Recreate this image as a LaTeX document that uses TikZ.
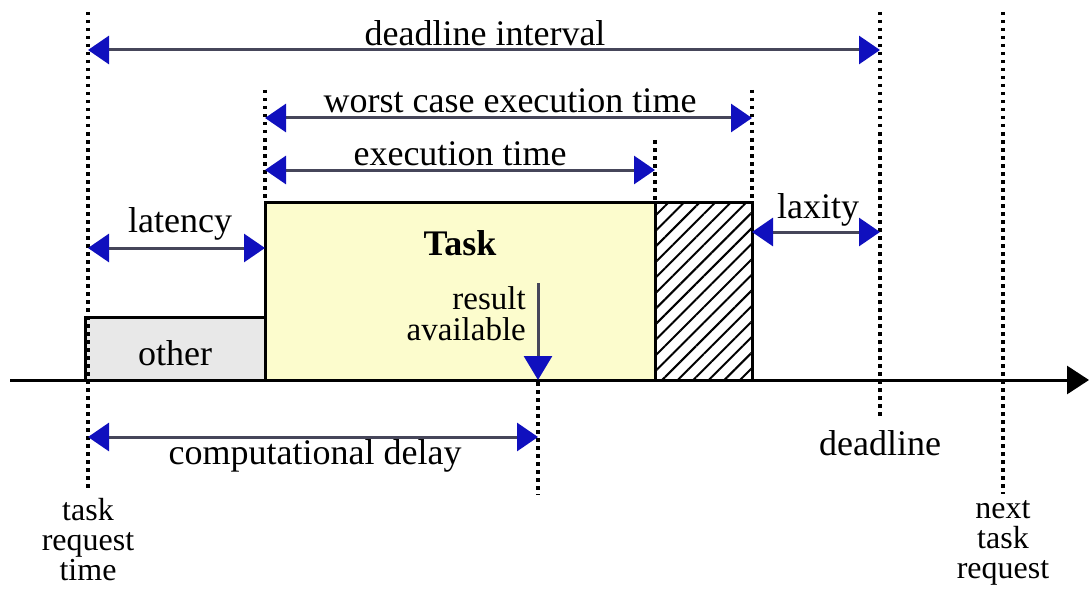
\documentclass[tikz,border=0pt]{standalone}
\usepackage{fontspec}
\setmainfont{Liberation Serif}
\usetikzlibrary{arrows.meta,patterns.meta}
\definecolor{tipblue}{RGB}{16,16,190}
\definecolor{shaftgray}{RGB}{70,70,90}
\definecolor{taskyellow}{RGB}{252,252,205}
\definecolor{othergray}{RGB}{232,232,232}

\begin{document}
\begin{tikzpicture}[x=1pt,y=-1pt,
    every node/.style={font=\fontsize{36}{29}\selectfont, inner sep=0pt},
    stack/.style={align=center, font=\fontsize{32}{30}\selectfont},
    marker/.style={line width=3.5pt, dash pattern=on 3.5pt off 4.5pt},
    span/.style={line width=3pt, shaftgray,
        {Triangle[length=21pt,width=28pt,color=tipblue]}-{Triangle[length=21pt,width=28pt,color=tipblue]}},
    block/.style={draw, line width=3pt}]

    \useasboundingbox (0,0) rectangle (1089,591);

    % time points on the axis
    \coordinate (req) at (88, 380);
    \coordinate (start) at (265, 380);
    \coordinate (res) at (538, 380);
    \coordinate (fin) at (655, 380);
    \coordinate (worst) at (752, 380);
    \coordinate (dead) at (880, 380);
    \coordinate (next) at (1003, 380);

    % blocks
    \draw[block, fill=othergray] (85, 380) rectangle (265, 317);
    \draw[block, fill=taskyellow] (265, 380) rectangle (655, 202);
    \draw[block, pattern={Lines[angle=45,distance=11pt,line width=2pt]}] (655, 380) rectangle (752, 202);

    % dotted markers
    \draw[marker] (88, 12) -- (88, 492);
    \draw[marker] (265, 90) -- (265, 200);
    \draw[marker] (655, 140) -- (655, 200);
    \draw[marker] (752, 90) -- (752, 200);
    \draw[marker] (880, 12) -- (880, 420);
    \draw[marker] (538, 382) -- (538, 495);
    \draw[marker] (1003, 12) -- (1003, 494);

    % time axis
    \coordinate (ax0) at (10, 380);
    \coordinate (ax1) at (1089, 380);
    \draw[line width=3pt, -{Triangle[length=22pt,width=28pt]}] (ax0) -- (ax1);

    % spans
    \coordinate (di0) at (88, 50);   \coordinate (di1) at (880, 50);
    \coordinate (wc0) at (265, 118); \coordinate (wc1) at (752, 118);
    \coordinate (et0) at (265, 170); \coordinate (et1) at (655, 170);
    \coordinate (la0) at (88, 248);  \coordinate (la1) at (265, 248);
    \coordinate (lx0) at (752, 232); \coordinate (lx1) at (880, 232);
    \coordinate (cd0) at (88, 437);  \coordinate (cd1) at (538, 437);
    \draw[span] (di0) -- (di1);
    \draw[span] (wc0) -- (wc1);
    \draw[span] (et0) -- (et1);
    \draw[span] (la0) -- (la1);
    \draw[span] (lx0) -- (lx1);
    \draw[span] (cd0) -- (cd1);

    % result available
    \coordinate (ra0) at (538, 283);
    \draw[line width=3pt, shaftgray, -{Triangle[length=24pt,width=28pt,color=tipblue]}] (ra0) -- (res);

    % labels
    \node (l-di) at (485, 33) {deadline interval};
    \node (l-wc) at (510, 101) {worst case execution time};
    \node (l-et) at (460, 154) {execution time};
    \node (l-la) at (180, 224) {latency};
    \node (l-lx) at (818, 210) {laxity};
    \node (l-task) at (460, 243) {\bfseries Task};
    \node (l-other) at (175, 353) {other};
    \node[anchor=east, align=right, font=\fontsize{33}{31}\selectfont] (l-ra) at (526, 314) {result\\available};
    \node (l-cd) at (315, 456) {computational delay};
    \node (l-dead) at (880, 443) {deadline};
    \node[stack, anchor=north] (l-req) at (88, 498) {task\\request\\time};
    \node[stack, anchor=north] (l-next) at (1003, 500) {next\\task\\request};

\end{tikzpicture}
\end{document}
